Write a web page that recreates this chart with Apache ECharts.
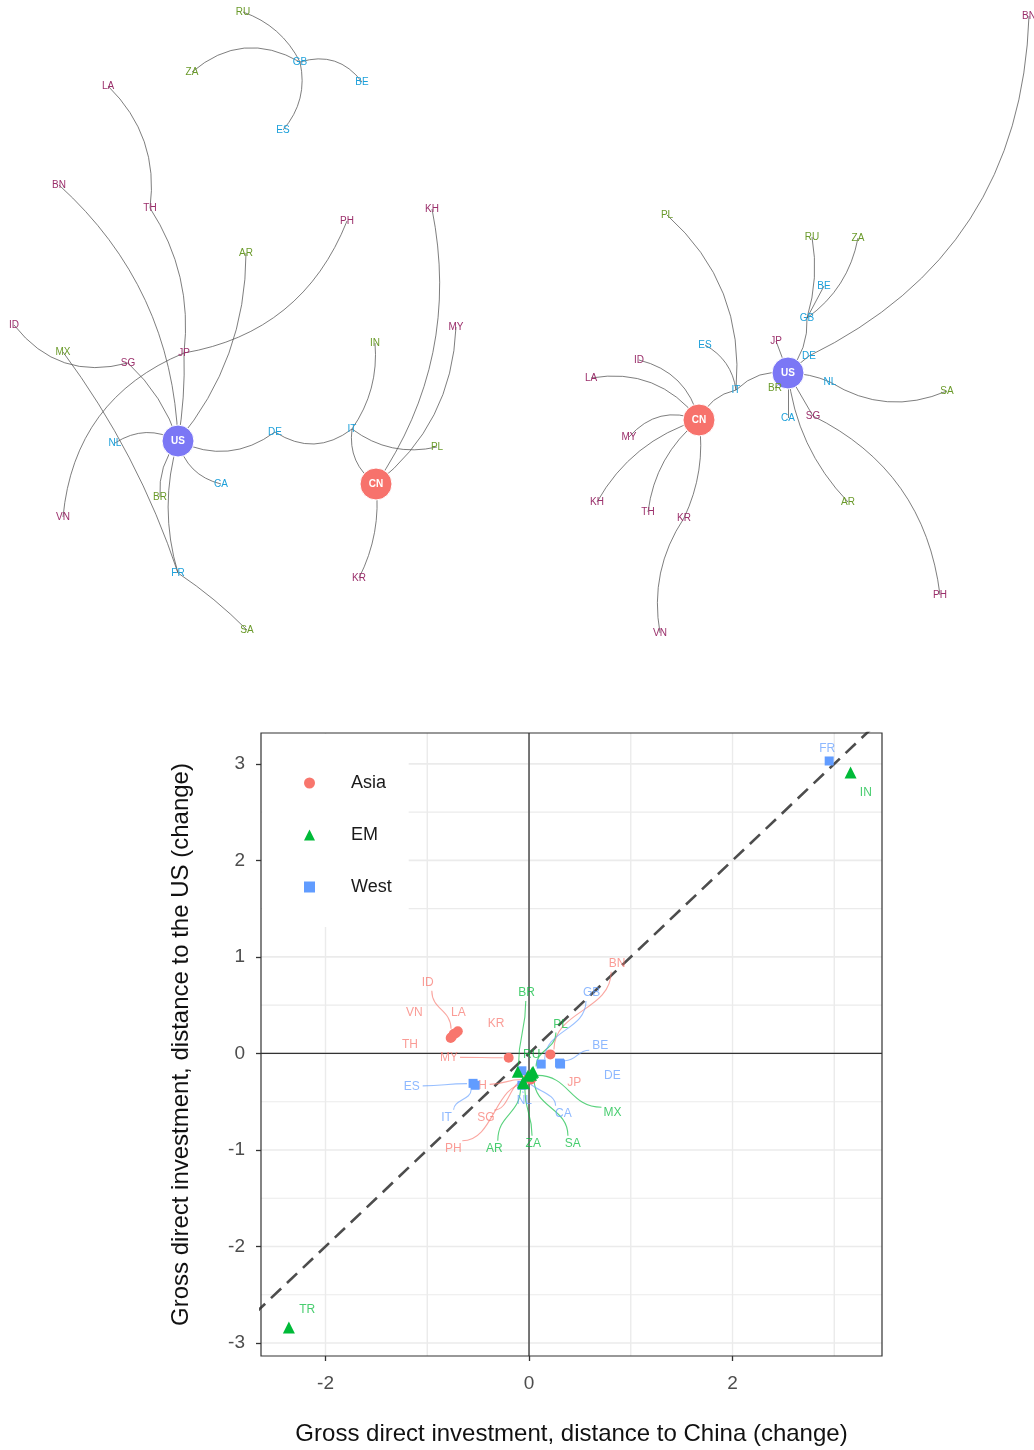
<!DOCTYPE html>
<html><head><meta charset="utf-8">
<script src="https://cdn.jsdelivr.net/npm/echarts@6/dist/echarts.min.js"></script>
<style>html,body{margin:0;padding:0;background:#fff}#c{width:1034px;height:1450px}</style>
</head><body><div id="c"></div>
<script>
// ================= DATA =================
// Country groups
const asiaCodes = ['ID','VN','LA','TH','KR','MY','BN','JP','KH','SG','PH'];
const emCodes   = ['BR','PL','RU','AR','ZA','SA','MX','IN','TR'];
const westCodes = ['GB','BE','DE','ES','IT','NL','CA','FR'];

// Scatter: change in distance to China (x) and to the US (y)
const asiaX = [-0.74,-0.77,-0.70,-0.76,-0.72,-0.20,0.21,0.01,-0.01,0.00,0.02];
const asiaY = [0.20,0.16,0.23,0.17,0.21,-0.045,-0.01,-0.25,-0.26,-0.24,-0.27];
const emX   = [-0.11,0.04,-0.01,-0.06,-0.05,0.02,0.03,3.16,-2.36];
const emY   = [-0.19,-0.19,-0.23,-0.30,-0.31,-0.22,-0.20,2.91,-2.84];
const westX = [0.12,0.30,0.31,-0.55,-0.53,-0.07,-0.07,2.95];
const westY = [-0.11,-0.10,-0.11,-0.31,-0.33,-0.33,-0.18,3.03];

// Repelled label positions (data units) and whether a leader segment is drawn
const asiaLabelX = [-0.995,-1.127,-0.695,-1.17,-0.324,-0.786,0.865,0.445,-0.495,-0.423,-0.744];
const asiaLabelY = [0.733,0.42,0.42,0.09,0.31,-0.04,0.93,-0.30,-0.338,-0.67,-0.988];
const asiaLead   = [1,0,0,0,0,1,1,0,1,1,1];
const emLabelX = [-0.023,0.31,0.026,-0.341,0.042,0.43,0.82,3.31,-2.18];
const emLabelY = [0.625,0.30,-0.01,-0.988,-0.936,-0.936,-0.615,2.70,-2.66];
const emLead   = [1,1,0,1,1,1,1,0,0];
const westLabelX = [0.616,0.70,0.82,-1.153,-0.81,-0.046,0.337,2.93];
const westLabelY = [0.625,0.083,-0.23,-0.342,-0.667,-0.494,-0.625,3.16];
const westLead   = [1,1,0,1,1,1,1,0];

// Axis ticks
const xTicks = [-2,0,2];
const yTicks = [-3,-2,-1,0,1,2,3];
const xGrid  = [-2,-1,0,1,2,3];
const yGrid  = [-3,-2.5,-2,-1.5,-1,-0.5,0,0.5,1,1.5,2,2.5,3];
const xLim = [-2.634, 3.469];
const yLim = [-3.135, 3.32];

// Network 1 (left): node layout
const netLNames = ['RU','ZA','GB','BE','ES','LA','BN','TH','PH','KH','AR','ID','MX','SG','JP','IN','MY','NL','US','DE','IT','PL','CA','BR','CN','VN','FR','KR','SA'];
const netLX = [243,192,300,362,283,108,59,150,347,432,246,14,63,128,184,375,456,115,178,275,352,437,221,160,376,63,178,359,247];
const netLY = [12,72,62,82,130,86,185,208,221,209,253,325,352,363,353,343,327,443,441,432,429,447,484,497,484,517,573,578,630];
const netLLinks = [
  ['RU','GB',0.2],['ZA','GB',0.35],['GB','BE',0.35],['GB','ES',0.25],
  ['LA','TH',0.25],['TH','JP',0.18],['JP','US',0.05],['PH','JP',0.28],['JP','VN',-0.3],
  ['BN','US',0.21],['ID','SG',-0.33],['SG','US',0.13],['MX','FR',0.08],['FR','SA',0.05],
  ['FR','US',0.15],['BR','US',0.2],['NL','US',0.3],['US','CA',-0.3],['US','DE',-0.3],
  ['DE','IT',-0.35],['IT','IN',-0.18],['IT','CN',-0.3],['IT','PL',-0.23],['KH','CN',0.21],
  ['MY','CN',0.23],['CN','KR',0.15],['AR','US',0.18]
];

// Network 2 (right): node layout
const netRNames = ['BN','PL','RU','ZA','BE','GB','JP','ES','DE','ID','LA','US','IT','BR','NL','SA','CN','CA','SG','MY','AR','KH','TH','KR','PH','VN'];
const netRX = [1029,667,812,858,824,807,776,705,809,639,591,788,736,775,830,947,699,788,813,629,848,597,648,684,940,660];
const netRY = [16,215,237,238,286,318,341,345,356,360,378,373,390,388,382,391,420,418,416,437,502,502,512,518,595,633];
const netRLinks = [
  ['PL','IT',0.25],['ES','IT',0.25],['IT','CN',-0.25],['IT','US',0.25],
  ['RU','GB',0.12],['ZA','GB',0.2],['BE','GB',0],['GB','US',0.2],['BN','DE',0.3],['DE','US',0],
  ['JP','US',0],['US','NL',0.1],['NL','SA',-0.26],['US','BR',0],['US','CA',0],['US','SG',0],
  ['SG','PH',0.27],['US','AR',-0.17],['ID','CN',0.3],['LA','CN',0.3],['MY','CN',0.35],
  ['KH','CN',0.2],['TH','CN',0.2],['KR','CN',-0.15],['KR','VN',-0.2]
];

// ================= STYLE =================
const FONT = "'Liberation Sans', Arial, Helvetica, sans-serif";
const C_ASIA = '#F8766D', C_EM = '#00BA38', C_WEST = '#619CFF';
const NET_ASIA = '#9B2F6B', NET_EM = '#6A9A2A', NET_WEST = '#1A9FDA';

function netColor(n){
  if (asiaCodes.includes(n)) return NET_ASIA;
  if (emCodes.includes(n)) return NET_EM;
  return NET_WEST;
}
function nodeItem(n, x, y){
  if (n === 'US' || n === 'CN') {
    return {name:n, value:[x,y], symbol:'circle', symbolSize:32,
      itemStyle:{color: n==='US' ? '#7B77F5' : '#F7726C', borderColor:'#ffffff', borderWidth:1},
      label:{show:true, position:'inside', color:'#fff', fontSize:10, fontWeight:'bold', fontFamily:FONT}};
  }
  return {name:n, value:[x,y], symbol:'circle', symbolSize:2,
    itemStyle:{color:'rgba(0,0,0,0)'},
    label:{show:true, position:'inside', color:netColor(n), fontSize:10, fontFamily:FONT}};
}
function netSeries(names, xs, ys, links){
  return {
    type:'graph', layout:'none', coordinateSystem:'cartesian2d', xAxisIndex:0, yAxisIndex:0,
    silent:true, z:2, roam:false,
    data: names.map((n,i)=>nodeItem(n, xs[i], ys[i])),
    links: links.map(l=>({source:l[0], target:l[1], lineStyle:{curveness:l[2]}})),
    lineStyle:{color:'#555555', width:0.9, opacity:0.85},
    emphasis:{disabled:true}
  };
}

function labelSeries(codes, px, py, lx, ly, lead, color){
  return {
    type:'custom', xAxisIndex:1, yAxisIndex:1, z:3, silent:true,
    data: codes.map((c,i)=>[lx[i], ly[i], px[i], py[i]]),
    encode:{x:0, y:1},
    renderItem(params, api){
      const i = params.dataIndex;
      const L = api.coord([api.value(0), api.value(1)]);
      const P = api.coord([api.value(2), api.value(3)]);
      const children = [];
      if (lead[i]) {
        const hw = codes[i].length*4.5 + 2, hh = 8;
        const dx = P[0]-L[0], dy = P[1]-L[1];
        let s;
        if (Math.abs(dy)*hw > Math.abs(dx)*hh) s = [L[0]+dx*hh/Math.abs(dy), L[1]+Math.sign(dy)*hh];
        else s = [L[0]+Math.sign(dx)*hw, L[1]+dy*hw/Math.abs(dx)];
        const len = Math.hypot(P[0]-s[0], P[1]-s[1]) || 1;
        const e = [P[0]-(P[0]-s[0])/len*6, P[1]-(P[1]-s[1])/len*6];
        let c1, c2;
        if (Math.abs(e[1]-s[1]) >= Math.abs(e[0]-s[0])) { const my=(s[1]+e[1])/2; c1=[s[0],my]; c2=[e[0],my]; }
        else { const mx=(s[0]+e[0])/2; c1=[mx,s[1]]; c2=[mx,e[1]]; }
        children.push({type:'bezierCurve',
          shape:{x1:s[0],y1:s[1],x2:e[0],y2:e[1],cpx1:c1[0],cpy1:c1[1],cpx2:c2[0],cpy2:c2[1]},
          style:{stroke:color, fill:'none', lineWidth:1.1, opacity:0.65}});
      }
      children.push({type:'text', style:{text:codes[i], x:L[0], y:L[1], fill:color, opacity:0.72,
        fontSize:12, fontFamily:FONT, align:'center', verticalAlign:'middle'}});
      return {type:'group', children};
    }
  };
}

function vLines(values, color, widthFn, z){
  return {type:'custom', xAxisIndex:1, yAxisIndex:1, z:z, silent:true, clip:false,
    data: values.map(v=>[v]), encode:{x:0},
    renderItem(params, api){
      const v = api.value(0);
      const a = api.coord([v, yLim[0]]), b = api.coord([v, yLim[1]]);
      return {type:'line', shape:{x1:a[0],y1:a[1],x2:b[0],y2:b[1]}, style:{stroke:color, lineWidth:widthFn(v)}};
    }};
}
function hLines(values, color, widthFn, z){
  return {type:'custom', xAxisIndex:1, yAxisIndex:1, z:z, silent:true, clip:false,
    data: values.map(v=>[xLim[0], v]), encode:{y:1},
    renderItem(params, api){
      const v = api.value(1);
      const a = api.coord([xLim[0], v]), b = api.coord([xLim[1], v]);
      return {type:'line', shape:{x1:a[0],y1:a[1],x2:b[0],y2:b[1]}, style:{stroke:color, lineWidth:widthFn(v)}};
    }};
}

const chart = echarts.init(document.getElementById('c'), null, {renderer:'canvas'});
const option = {
  animation:false,
  backgroundColor:'#ffffff',
  textStyle:{fontFamily:FONT},
  grid:[
    {left:0, top:0, width:1034, height:660, show:false},
    {left:261, top:733, width:621, height:623, show:true, borderColor:'#333333', borderWidth:1.2, backgroundColor:'transparent', z:10}
  ],
  xAxis:[
    {gridIndex:0, type:'value', min:0, max:1034, show:false},
    {gridIndex:1, type:'value', min:xLim[0], max:xLim[1],
      axisLine:{show:false, onZero:false},
      axisTick:{show:true, length:5, inside:false, customValues:xTicks, lineStyle:{color:'#333', width:1.3}},
      axisLabel:{customValues:xTicks, fontSize:19, color:'#4d4d4d', margin:18, fontFamily:FONT},
      splitLine:{show:false},
      name:'Gross direct investment, distance to China (change)', nameLocation:'middle', nameGap:66,
      nameTextStyle:{fontSize:24, color:'#111', fontFamily:FONT}}
  ],
  yAxis:[
    {gridIndex:0, type:'value', min:0, max:660, inverse:true, show:false},
    {gridIndex:1, type:'value', min:yLim[0], max:yLim[1],
      axisLine:{show:false, onZero:false},
      axisTick:{show:true, length:5, inside:false, customValues:yTicks, lineStyle:{color:'#333', width:1.3}},
      axisLabel:{customValues:yTicks, fontSize:19, color:'#4d4d4d', margin:16, fontFamily:FONT},
      splitLine:{show:false},
      name:'Gross direct investment, distance to the US (change)', nameLocation:'middle', nameGap:68,
      nameTextStyle:{fontSize:24, color:'#111', fontFamily:FONT}}
  ],
  legend:{
    orient:'vertical', left:262, top:734, padding:[40,17,31,42], itemGap:34,
    itemWidth:11, itemHeight:11, backgroundColor:'#ffffff',
    textStyle:{fontSize:18, color:'#1a1a1a', fontFamily:FONT, padding:[0,0,0,31]},
    data:[{name:'Asia', icon:'circle'},{name:'EM', icon:'triangle'},{name:'West', icon:'rect'}],
    selectedMode:false
  },
  series:[
    netSeries(netLNames, netLX, netLY, netLLinks),
    netSeries(netRNames, netRX, netRY, netRLinks),
    vLines(xGrid, '#ebebeb', v => 1.4, 1),
    hLines(yGrid, '#ebebeb', v => Number.isInteger(v) ? 1.6 : 1.1, 1),
    vLines([0], '#333333', v => 1.3, 2),
    hLines([0], '#333333', v => 1.3, 2),
    {type:'line', xAxisIndex:1, yAxisIndex:1, z:2, silent:true, symbol:'none', clip:true,
      data:[[xLim[0]-1, xLim[0]-1],[xLim[1]+1, xLim[1]+1]],
      lineStyle:{color:'#4d4d4d', width:2.6, type:[14,8]}},
    labelSeries(asiaCodes, asiaX, asiaY, asiaLabelX, asiaLabelY, asiaLead, C_ASIA),
    labelSeries(emCodes, emX, emY, emLabelX, emLabelY, emLead, C_EM),
    labelSeries(westCodes, westX, westY, westLabelX, westLabelY, westLead, C_WEST),
    {type:'scatter', name:'Asia', xAxisIndex:1, yAxisIndex:1, z:5, symbol:'circle', symbolSize:10,
      itemStyle:{color:C_ASIA, opacity:1}, data: asiaX.map((x,i)=>[x, asiaY[i]])},
    {type:'scatter', name:'West', xAxisIndex:1, yAxisIndex:1, z:5, symbol:'rect', symbolSize:9,
      itemStyle:{color:C_WEST, opacity:1}, data: westX.map((x,i)=>[x, westY[i]])},
    {type:'scatter', name:'EM', xAxisIndex:1, yAxisIndex:1, z:5, symbol:'triangle', symbolSize:12,
      itemStyle:{color:C_EM, opacity:1}, data: emX.map((x,i)=>[x, emY[i]])}
  ]
};
chart.setOption(option);
</script>
</body></html>
